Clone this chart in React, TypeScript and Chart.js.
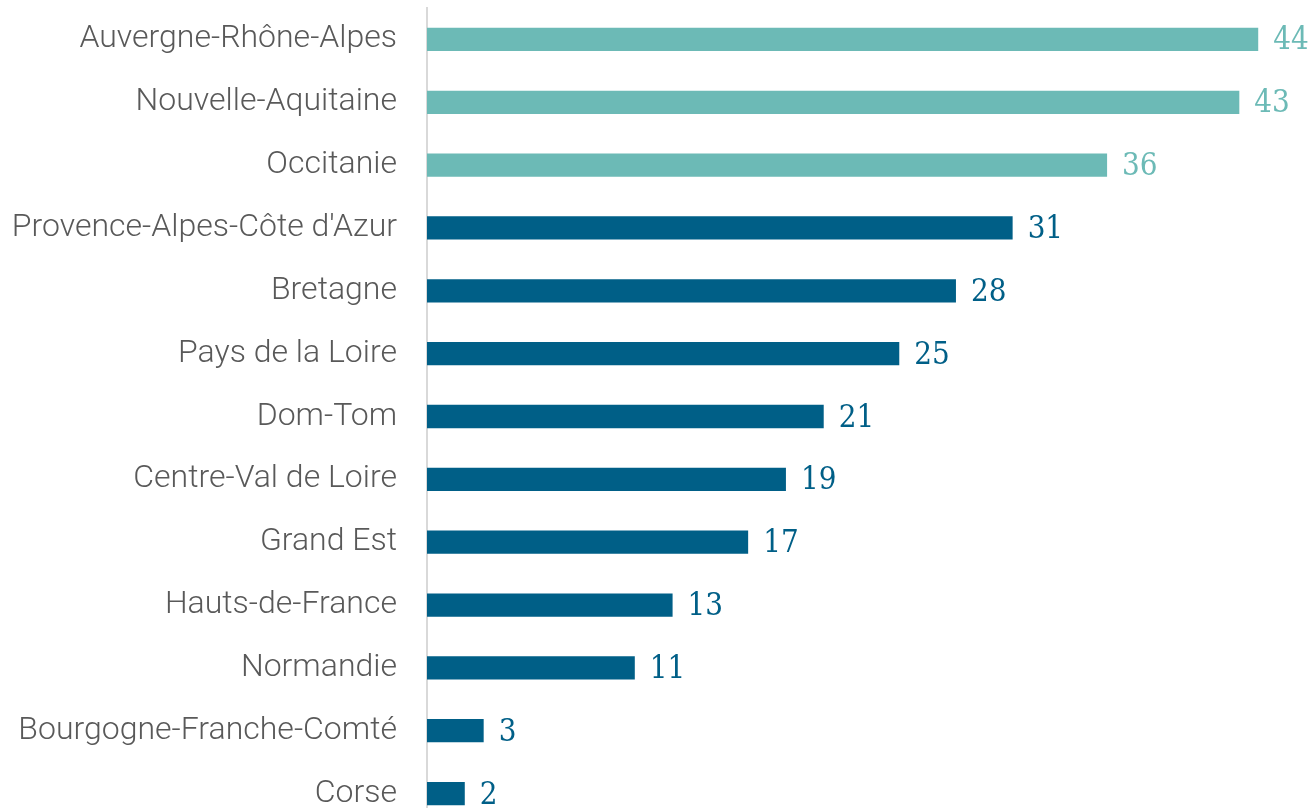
import React, { useEffect, useRef } from "react";
import { Chart, registerables } from "chart.js";

Chart.register(...registerables);

const regions = [
  "Auvergne-Rhône-Alpes",
  "Nouvelle-Aquitaine",
  "Occitanie",
  "Provence-Alpes-Côte d'Azur",
  "Bretagne",
  "Pays de la Loire",
  "Dom-Tom",
  "Centre-Val de Loire",
  "Grand Est",
  "Hauts-de-France",
  "Normandie",
  "Bourgogne-Franche-Comté",
  "Corse",
];
const counts = [44, 43, 36, 31, 28, 25, 21, 19, 17, 13, 11, 3, 2];
const highlighted = [true, true, true, false, false, false, false, false, false, false, false, false, false];

const TEAL = "#6cbab6";
const BLUE = "#005f87";

const valueLabels = {
  id: "valueLabels",
  afterDatasetsDraw(chart: any) {
    const { ctx } = chart;
    const meta = chart.getDatasetMeta(0);
    ctx.save();
    ctx.font = '31px "DejaVu Serif Condensed", "DejaVu Serif", serif';
    ctx.textAlign = "left";
    ctx.textBaseline = "middle";
    meta.data.forEach((bar: any, i: number) => {
      ctx.fillStyle = highlighted[i] ? TEAL : BLUE;
      ctx.fillText(String(counts[i]), bar.x + 15, bar.y + 2);
    });
    ctx.restore();
  },
};

export default function App() {
  const ref = useRef<HTMLCanvasElement | null>(null);
  useEffect(() => {
    if (!ref.current) return;
    const chart = new Chart(ref.current, {
      type: "bar",
      data: {
        labels: regions,
        datasets: [
          {
            data: counts,
            backgroundColor: highlighted.map((h) => (h ? TEAL : BLUE)),
            barPercentage: 0.37,
            categoryPercentage: 1,
          },
        ],
      },
      options: {
        indexAxis: "y",
        animation: false,
        responsive: false,
        maintainAspectRatio: false,
        layout: { padding: { top: 8, right: 16, bottom: 0, left: 0 } },
        plugins: {
          legend: { display: false },
          tooltip: { enabled: false },
        },
        scales: {
          x: {
            display: false,
            min: 0,
            max: 46,
          },
          y: {
            afterFit(scale: any) {
              scale.width = 427;
              scale.paddingTop = 0;
              scale.paddingBottom = 0;
            },
            grid: { display: false, drawTicks: false },
            border: { display: true, color: "#d9d9d9", width: 2 },
            ticks: {
              padding: 30,
              color: "#595959",
              font: { family: "Roboto", weight: "300", size: 32 },
            },
          },
        },
      },
      plugins: [valueLabels],
    });
    return () => chart.destroy();
  }, []);
  return (
    <div style={{ position: "fixed", left: 0, top: 0, width: 1312, height: 808, overflow: "hidden", background: "#fff" }}>
      <canvas ref={ref} width={1312} height={825} style={{ display: "block", width: 1312, height: 825 }} />
    </div>
  );
}
